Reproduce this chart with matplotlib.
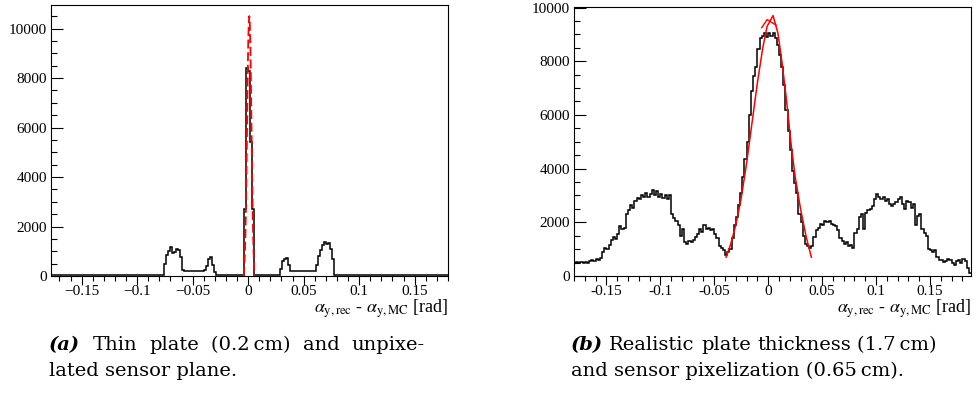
import numpy as np
import matplotlib
matplotlib.use('Agg')
import matplotlib.pyplot as plt
from matplotlib.ticker import MultipleLocator, FuncFormatter

plt.rcParams['font.family'] = ['Liberation Serif', 'DejaVu Serif']
plt.rcParams['mathtext.fontset'] = 'stix'

# (a) thin plate: histogram, 200 bins of 0.0018 rad starting at -0.18
a_lo, a_bw = -0.18, 0.0018
a_counts = [
    50, 60, 45, 55, 50, 40, 60, 55, 45, 50, 55, 60, 40, 50, 55, 45, 60, 50, 45, 55,
    50, 40, 55, 60, 50, 45, 50, 55, 40, 60, 50, 55, 45, 50, 60, 40, 55, 50, 45, 60,
    50, 55, 45, 50, 40, 55, 60, 50, 45, 55, 50, 40, 60, 50, 55, 45, 50, 55,
    500, 850, 1000, 1180, 920, 950, 1080, 1050, 750, 230,
    210, 200, 215, 190, 205, 210, 195, 200, 215, 220,
    230, 400, 700, 750, 450, 150,
    50, 55, 45, 60, 50, 40, 55, 50, 45, 60, 50, 55, 45, 50,
    2700, 8400, 8300, 5400, 2700,
    60, 50, 45, 55, 50, 40, 60, 50, 55, 45, 50, 60, 45,
    300, 600, 680, 720, 450,
    190, 210, 200, 205, 195, 215, 200, 190, 210, 205, 200, 195, 210,
    450, 800, 1050, 1250, 1380, 1300, 1350, 1100, 700,
    60, 50, 45, 55, 50, 60, 40, 55, 50, 45, 60, 50, 55, 45, 50, 40, 55, 60, 50, 45,
    55, 50, 40, 60, 50, 55, 45, 50, 60, 40, 55, 50, 45, 60, 50, 55, 45, 50, 40, 55,
    60, 50, 45, 55, 50, 40, 60, 50, 55, 45, 50, 55, 45, 60, 50, 50, 55,
]
a_fit_x = [-0.0040, -0.0030, -0.0025, -0.0020, -0.0015, -0.0010, -0.0005, 0.0000, 0.0005,
           0.0010, 0.0015, 0.0020, 0.0025, 0.0030, 0.0035, 0.0040, 0.0045, 0.0055]
a_fit_y = [0, 900, 1600, 2800, 4300, 6000, 7800, 9300, 10200,
           10500, 10200, 9300, 7800, 6000, 4300, 2800, 1600, 0]

# (b) realistic plate: histogram, bins of 0.002 rad starting at -0.18
b_lo, b_bw = -0.18, 0.002
b_counts = [
    470, 520, 500, 540, 480, 510, 470, 560, 590, 560, 640, 610, 680, 900, 1050, 1000,
    1150, 1350, 1450, 1380, 1550, 1850, 1750, 1800, 2300, 2450, 2650, 2550, 2800, 2900,
    2850, 3000, 2950, 3100, 2950, 3050, 3200, 3000, 3150, 2950, 3050, 2900, 3000, 2850,
    3000, 2300, 2150, 2050, 1900, 1500, 1750, 1250, 1200, 1300, 1250, 1350, 1450, 1550,
    1750, 1650, 1900, 1750, 1800, 1700, 1750, 1550, 1400, 1100, 1050, 950, 800, 900,
    1000, 1400, 1900, 2200, 2650, 3100, 3700, 4350, 5000, 6000, 6900, 7450, 7800, 8450,
    8850, 8950, 9050, 8900, 9050, 8950, 9050, 8850, 8600, 8250, 7800, 7100, 6200, 5400,
    4700, 3900, 3450, 3100, 2300, 2000, 1500, 1200, 1100, 1050, 1100, 1450, 1700, 1800,
    1950, 1900, 2050, 2000, 2050, 1950, 1900, 1850, 1700, 1400, 1300, 1200, 1250, 1100,
    1150, 1050, 1600, 1750, 2200, 2300, 1750, 2350, 2450, 2500, 2600, 2850, 3050, 2950,
    2850, 2950, 2800, 2850, 2700, 2600, 2700, 2750, 2850, 2950, 2700, 2500, 2800, 2750,
    2550, 2700, 1900, 2250, 2300, 1750, 1600, 1500, 1000, 950, 900, 950, 700, 600,
    580, 520, 560, 650, 600, 500, 420, 550, 600, 480, 620, 560, 300, 120,
]
b_fit_x = [-0.0390, -0.0350, -0.0300, -0.0250, -0.0200, -0.0150, -0.0100, -0.0050, -0.0010,
           0.0045, 0.0090, 0.0130, 0.0170, 0.0210, 0.0250, 0.0300, 0.0350, 0.0400]
b_fit_y = [700, 1150, 1900, 2900, 4200, 5700, 7200, 8500, 9300,
           9700, 9050, 7900, 6550, 5000, 3700, 2500, 1500, 700]
b_tip_x = [-0.0060, -0.0010, 0.0075]
b_tip_y = [9250, 9550, 9340]

xlabel = r'$\alpha_{\mathrm{y,rec}}$ - $\alpha_{\mathrm{y,MC}}$ [rad]'

W, H = 976, 396
PT = 0.72  # points per pixel at 100 dpi
fig = plt.figure(figsize=(W / 100, H / 100), dpi=100)


def px_axes(l, t, r, b):
    return fig.add_axes([l / W, 1 - b / H, (r - l) / W, (b - t) / H])


def style(ax, xlim, ylim, unicode_minus):
    ax.set_xlim(*xlim)
    ax.set_ylim(*ylim)
    ax.xaxis.set_major_locator(MultipleLocator(0.05))
    ax.xaxis.set_minor_locator(MultipleLocator(0.01))
    ax.yaxis.set_major_locator(MultipleLocator(2000))
    ax.yaxis.set_minor_locator(MultipleLocator(500))

    def fmt(v, pos):
        s = '%g' % round(v, 3)
        if s == '-0':
            s = '0'
        return s.replace('-', '\u2212') if unicode_minus else s
    ax.xaxis.set_major_formatter(FuncFormatter(fmt))
    ax.yaxis.set_major_formatter(FuncFormatter(lambda v, p: '%d' % v))
    ax.tick_params(axis='x', which='major', direction='out', length=9 * PT, width=0.8,
                   pad=0, labelsize=11)
    ax.tick_params(axis='x', which='minor', direction='out', length=5 * PT, width=0.8)
    ax.tick_params(axis='y', which='major', direction='in', length=12 * PT, width=0.8,
                   pad=4 * PT, labelsize=11)
    ax.tick_params(axis='y', which='minor', direction='in', length=6 * PT, width=0.8)
    for sp in ax.spines.values():
        sp.set_linewidth(0.8)


# panel (a)
ax1 = px_axes(51, 5, 448, 276)
edges_a = a_lo + a_bw * np.arange(len(a_counts) + 1)
ax1.stairs(a_counts, edges_a, baseline=None, color='black', lw=1.1)
ax1.plot(a_fit_x, a_fit_y, color='red', lw=1.3, dashes=(5, 2))
style(ax1, (-0.1776, 0.18), (0, 10950), True)

# panel (b)
ax2 = px_axes(574, 7, 971, 276)
edges_b = b_lo + b_bw * np.arange(len(b_counts) + 1)
ax2.stairs(b_counts, edges_b, baseline=None, color='black', lw=1.1)
ax2.plot(b_fit_x, b_fit_y, color='red', lw=1.1)
ax2.plot(b_tip_x, b_tip_y, color='red', lw=1.0)
style(ax2, (-0.18, 0.188), (0, 10020), False)

for right in (448, 971):
    fig.text(right / W, 1 - 309 / H, xlabel, ha='right', va='center', fontsize=13)

# captions (first line of (a) is justified like the LaTeX original)
cap_font = ['DejaVu Serif']
captions = [
    (49, 425, '(a)', 'Thin plate (0.2\u2009cm) and unpixe-', 'lated sensor plane.'),
    (571, None, '(b)', 'Realistic plate thickness (1.7\u2009cm)', 'and sensor pixelization (0.65\u2009cm).'),
]
fig.canvas.draw()
rend = fig.canvas.get_renderer()
y1, y2 = 1 - 345 / H, 1 - 371 / H
for x0, x_end, tag, line1, line2 in captions:
    t = fig.text(x0 / W, y1, tag, ha='left', va='center', fontsize=14,
                 family=cap_font, weight='bold', style='italic')
    items = [t]
    for w in line1.split(' '):
        items.append(fig.text(0, y1, w, ha='left', va='center', fontsize=14, family=cap_font))
    widths = [it.get_window_extent(rend).width for it in items]
    probe1 = fig.text(0, y1, 'a a', fontsize=14, family=cap_font)
    probe2 = fig.text(0, y1, 'aa', fontsize=14, family=cap_font)
    space = probe1.get_window_extent(rend).width - probe2.get_window_extent(rend).width
    probe1.remove()
    probe2.remove()
    if x_end is not None:
        space = (x_end - x0 - sum(widths)) / (len(items) - 1)
    x = x0
    for it, w in zip(items, widths):
        it.set_x(x / W)
        x += w + space
    fig.text(x0 / W, y2, line2, ha='left', va='center', fontsize=14, family=cap_font)

fig.savefig('out.png', dpi=100)
